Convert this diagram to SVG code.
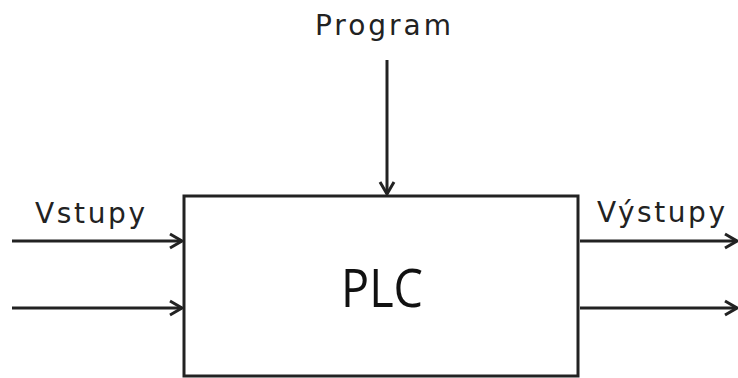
<svg xmlns="http://www.w3.org/2000/svg" width="738" height="378" viewBox="0 0 738 378">
<style>
.lbl{font-family:"DejaVu Sans","Liberation Sans",sans-serif;font-size:28px;fill:#222}
.big{font-family:"Open Sans","Liberation Sans",sans-serif;font-size:53px;fill:#111}
.ln{stroke:#222;stroke-width:3;fill:none}
</style>
<defs>
<marker id="arr" markerUnits="userSpaceOnUse" viewBox="0 0 14 16" refX="13" refY="8" markerWidth="14" markerHeight="16" orient="auto" overflow="visible">
<path d="M1,1 L13,8 L1,15" fill="none" stroke="#222" stroke-width="3"/>
</marker>
</defs>
<rect width="738" height="378" fill="#fff"/>
<g id="plc">
<rect x="184" y="196" width="394" height="180" fill="#fff" stroke="#222" stroke-width="3"/>
<text class="big" x="341" y="307" textLength="82" lengthAdjust="spacingAndGlyphs">PLC</text>
</g>
<g id="labels">
<text class="lbl" x="315" y="35" textLength="136" lengthAdjust="spacing">Program</text>
<text class="lbl" x="35" y="223" textLength="110" lengthAdjust="spacing">Vstupy</text>
<text class="lbl" x="597" y="222" textLength="128" lengthAdjust="spacing">Výstupy</text>
</g>
<g id="connectors">
<line class="ln" x1="387" y1="60" x2="387" y2="194" marker-end="url(#arr)"/>
<line class="ln" x1="12" y1="241" x2="182" y2="241" marker-end="url(#arr)"/>
<line class="ln" x1="12" y1="308" x2="182" y2="308" marker-end="url(#arr)"/>
<line class="ln" x1="580" y1="241" x2="737" y2="241" marker-end="url(#arr)"/>
<line class="ln" x1="580" y1="308" x2="737" y2="308" marker-end="url(#arr)"/>
</g>
</svg>
